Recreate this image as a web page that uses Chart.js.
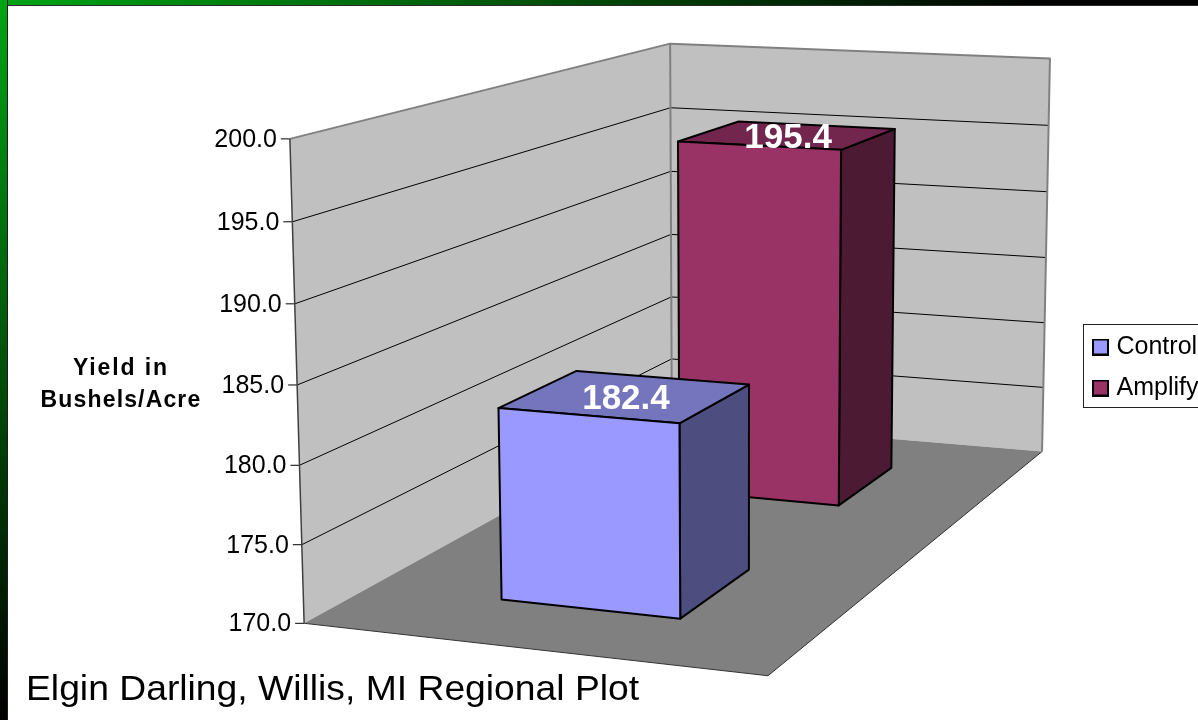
<!DOCTYPE html>
<html>
<head>
<meta charset="utf-8">
<style>
html,body{margin:0;padding:0;width:1198px;height:720px;overflow:hidden;background:#fff}
#top{position:absolute;left:0;top:0;width:1198px;height:5px;background:linear-gradient(90deg,#00a414 0%,#000 88%);border-bottom:1px solid #2a2a2a}
#left{position:absolute;left:0;top:0;width:7px;height:720px;background:linear-gradient(180deg,#00a414 0%,#000 100%);border-right:1px solid #1c1c1c}
canvas{position:absolute;left:0;top:0;display:block}
</style>
<script src="https://cdn.jsdelivr.net/npm/chart.js@4/dist/chart.umd.js"></script>
</head>
<body>
<div id="top"></div><div id="left"></div>
<canvas id="c" width="1260" height="720"></canvas>
<script>
// ---- data ----
const categories = ['Yield'];
const seriesNames = ['Control', 'Amplify'];
const controlValues = [182.4];
const amplifyValues = [195.4];
const axisMin = 170, axisMax = 200, axisStep = 5;
const axisTitleLines = ['Yield in', 'Bushels/Acre'];
const caption = 'Elgin Darling, Willis, MI Regional Plot';

// ---- styles ----
const frontColors = ['#9999FF', '#993366'];
const topColors = ['#7575BD', '#73264D'];
const sideColors = ['#4D4D80', '#4D1A33'];
const FONT = '"Liberation Sans", Arial, sans-serif';

// ---- 3D frame: the plot box (u across, v up, w depth) as seen in the picture ----
const frameCorners = [
  [0,0,0, 304,622],[0,1,0, 290,139],[0,1,1, 670,43],[1,1,1, 1050,59],
  [1,0,1, 1042,450],[1,0,0, 768,677],[0,0,1, 672,422]
];
const barSpanU = [0.3, 0.7];

function fitCamera(pts){
  const n = 11, A = Array.from({length:n},()=>new Array(n+1).fill(0));
  const add = (r,b)=>{for(let i=0;i<n;i++){for(let j=0;j<n;j++)A[i][j]+=r[i]*r[j];A[i][n]+=r[i]*b;}};
  pts.forEach(([u,v,w,x,y])=>{
    add([u,v,w,1,0,0,0,0,-x*u,-x*v,-x*w],x);
    add([0,0,0,0,u,v,w,1,-y*u,-y*v,-y*w],y);
  });
  for(let i=0;i<n;i++){
    let p=i;for(let r=i+1;r<n;r++)if(Math.abs(A[r][i])>Math.abs(A[p][i]))p=r;
    [A[i],A[p]]=[A[p],A[i]];
    for(let r=0;r<n;r++){if(r===i)continue;const f=A[r][i]/A[i][i];for(let c=i;c<=n;c++)A[r][c]-=f*A[i][c];}
  }
  return A.map((row,i)=>row[n]/row[i]);
}
const cam = fitCamera(frameCorners);
function project(u,v,w){
  const d = cam[8]*u+cam[9]*v+cam[10]*w+1;
  return [(cam[0]*u+cam[1]*v+cam[2]*w+cam[3])/d,(cam[4]*u+cam[5]*v+cam[6]*w+cam[7])/d];
}
const heightOf = (scale,val)=>(scale.bottom-scale.getPixelForValue(val))/scale.height;
function quad(ctx,pts,fill,stroke,lw){
  ctx.beginPath();
  pts.forEach((p,i)=>i?ctx.lineTo(p[0],p[1]):ctx.moveTo(p[0],p[1]));
  ctx.closePath();
  if(fill){ctx.fillStyle=fill;ctx.fill();}
  if(stroke){ctx.strokeStyle=stroke;ctx.lineWidth=lw;ctx.lineJoin='round';ctx.stroke();}
}
function poly(ctx,pts,stroke,lw){
  ctx.beginPath();
  pts.forEach((p,i)=>i?ctx.lineTo(p[0],p[1]):ctx.moveTo(p[0],p[1]));
  ctx.strokeStyle=stroke;ctx.lineWidth=lw;ctx.lineJoin='round';ctx.stroke();
}

// value axis whose labels follow the tilted front edge of the wall
class PerspectiveScale extends Chart.LinearScale {
  _computeLabelArea(){ return null; }
  getLabelItems(area){
    const items = super.getLabelItems(area);
    items.forEach((it,i)=>{
      const p = project(0,heightOf(this,this.ticks[i].value),0);
      it.options.translation=[p[0]-13,p[1]+1];
      it.options.textAlign='right';
    });
    return items;
  }
}
PerspectiveScale.id='perspective';
PerspectiveScale.defaults=Chart.LinearScale.defaults;
Chart.register(PerspectiveScale);

// legend swatches
function swatch(fill){
  const s=document.createElement('canvas');s.width=17;s.height=17;
  const g=s.getContext('2d');g.fillStyle=fill;g.fillRect(1,1,15,15);
  g.strokeStyle='#000';g.lineWidth=2;g.strokeRect(1,1,15,15);
  return s;
}
const swatches = frontColors.map(swatch);

const box3d = {
  id:'box3d',
  afterLayout(chart){
    const l=chart.legend;
    const w=l.width,h=l.height;
    l.left=1081;l.right=1081+w;l.top=318.5;l.bottom=318.5+h;
  },
  beforeDatasetsDraw(chart){
    const ctx=chart.ctx, ys=chart.scales.y;
    ctx.save();
    const P=project;
    quad(ctx,[P(0,0,0),P(0,1,0),P(0,1,1),P(0,0,1)],'#C0C0C0');
    quad(ctx,[P(0,0,1),P(0,1,1),P(1,1,1),P(1,0,1)],'#C0C0C0');
    ys.ticks.forEach(t=>{
      const v=heightOf(ys,t.value);
      if(v>0 && v<1) poly(ctx,[P(0,v,0),P(0,v,1),P(1,v,1)],'#000',1);
      const p=P(0,v,0);
      poly(ctx,[[p[0]-9,p[1]],[p[0],p[1]]],'#000',1);
    });
    quad(ctx,[P(0,0,0),P(1,0,0),P(1,0,1),P(0,0,1)],'#808080');
    poly(ctx,[P(0,0,0),P(1,0,0),P(1,0,1)],'#333',1);
    poly(ctx,[P(0,1,0),P(0,1,1),P(1,1,1),P(1,0,1)],'#808080',2);
    poly(ctx,[P(0,0,1),P(0,1,1)],'#808080',2);
    poly(ctx,[P(0,0,0),P(0,1,0)],'#404040',1.5);
    ctx.restore();
  },
  beforeDatasetDraw(chart,args){
    const ctx=chart.ctx, area=chart.chartArea, el=args.meta.data[0], i=args.index;
    const w0=(el.x-el.width/2-area.left)/area.width, w1=(el.x+el.width/2-area.left)/area.width;
    const v1=(area.bottom-el.y)/area.height, v0=Math.max(0,(area.bottom-el.base)/area.height);
    const [u0,u1]=barSpanU, P=project;
    ctx.save();
    quad(ctx,[P(u1,v0,w0),P(u1,v1,w0),P(u1,v1,w1),P(u1,v0,w1)],sideColors[i],'#000',2);
    quad(ctx,[P(u0,v1,w0),P(u1,v1,w0),P(u1,v1,w1),P(u0,v1,w1)],topColors[i],'#000',2);
    quad(ctx,[P(u0,v0,w0),P(u0,v1,w0),P(u1,v1,w0),P(u1,v0,w0)],frontColors[i],'#000',2);
    ctx.restore();
    return false;
  },
  afterDatasetsDraw(chart){
    const ctx=chart.ctx, area=chart.chartArea;
    ctx.save();
    ctx.fillStyle='#fff';ctx.font='bold 35px '+FONT;ctx.textAlign='center';ctx.textBaseline='middle';
    chart.data.datasets.forEach((ds,i)=>{
      const el=chart.getDatasetMeta(i).data[0];
      const v=(area.bottom-el.y)/area.height, w=(el.x-area.left)/area.width;
      const p=project((barSpanU[0]+barSpanU[1])/2,v,w);
      ctx.fillText(ds.data[0].toFixed(1),p[0],p[1]+3);
    });
    ctx.restore();
  },
  afterDraw(chart){
    const ctx=chart.ctx;
    ctx.save();
    // legend frame
    ctx.strokeStyle='#222';ctx.lineWidth=1;
    ctx.strokeRect(1083.5,324.5,170,83);
    // axis title
    ctx.fillStyle='#000';ctx.font='bold 23px '+FONT;ctx.textAlign='center';ctx.textBaseline='middle';
    axisTitleLines.forEach((t,i)=>{
      ctx.letterSpacing=['1.9px','1.15px'][i];
      ctx.fillText(t,121,369+i*32);
    });
    ctx.letterSpacing='0px';
    // caption, slightly widened like the slide text
    ctx.translate(26,690);ctx.scale(1.065,1);
    ctx.font='35px '+FONT;ctx.textAlign='left';
    ctx.fillText(caption,0,0);
    ctx.restore();
  }
};

new Chart(document.getElementById('c'),{
  type:'bar',
  data:{
    labels:categories,
    datasets:[
      {label:seriesNames[0],data:controlValues,backgroundColor:frontColors[0],borderColor:'#000',borderWidth:2},
      {label:seriesNames[1],data:amplifyValues,backgroundColor:frontColors[1],borderColor:'#000',borderWidth:2}
    ]
  },
  options:{
    responsive:false,animation:false,devicePixelRatio:1,
    categoryPercentage:1,barPercentage:0.4,
    layout:{padding:{left:200,right:200,top:40,bottom:40}},
    events:[],
    scales:{
      x:{display:false},
      y:{
        type:'perspective',min:axisMin,max:axisMax,
        border:{display:false},grid:{display:false},
        ticks:{stepSize:axisStep,autoSkip:false,color:'#000',font:{family:FONT,size:25},callback:v=>v.toFixed(1)}
      }
    },
    plugins:{
      title:{display:false},tooltip:{enabled:false},
      legend:{
        display:true,position:'right',align:'start',
        labels:{
          color:'#000',font:{family:FONT,size:25},padding:16,
          usePointStyle:true,pointStyleWidth:7,boxHeight:15,
          generateLabels(chart){
            return Chart.defaults.plugins.legend.labels.generateLabels(chart).map((it,i)=>({...it,pointStyle:swatches[i]}));
          }
        }
      }
    }
  },
  plugins:[box3d]
});
</script>
</body>
</html>
